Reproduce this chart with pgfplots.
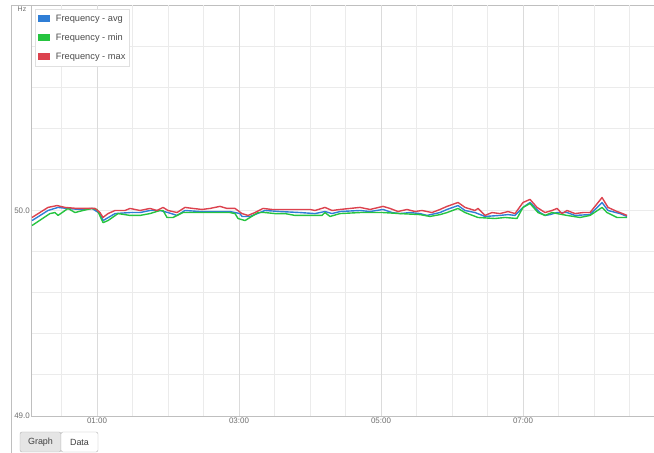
\documentclass[border=0pt]{standalone}
\usepackage{pgfplots}
\pgfplotsset{compat=1.18}
\usepackage{fontspec}
\setmainfont{Liberation Sans}
\definecolor{cavg}{RGB}{47,126,214}
\definecolor{cmin}{RGB}{38,196,64}
\definecolor{cmax}{RGB}{220,66,78}
\definecolor{tickc}{RGB}{110,110,110}
\begin{document}
\begin{tikzpicture}[x=1bp,y=1bp]
\useasboundingbox (0,0) rectangle (654,453);
\draw[black!25, line width=0.8bp] (11.5,0) -- (11.5,448) -- (654,448);
\node[font=\fontsize{7}{8}\selectfont, text=tickc] at (22,444) {Hz};
\begin{axis}[
  at={(31bp,37bp)}, anchor=south west,
  scale only axis, width=623bp, height=411bp,
  xmin=0.0704, xmax=8.845, ymin=49, ymax=51,
  axis x line*=bottom, axis y line*=left,
  axis line style={black!25, line width=0.8bp},
  xtick={1,3,5,7}, xticklabels={01:00,03:00,05:00,07:00},
  ytick={49,50}, yticklabels={49.0,50.0},
  minor xtick={0.5,1,...,8.5},
  minor ytick={49.2,49.4,49.6,49.8,50.2,50.4,50.6,50.8},
  xmajorgrids, ymajorgrids, xminorgrids, yminorgrids,
  major grid style={black!8, line width=0.8bp},
  minor grid style={black!8, line width=0.8bp},
  extra x ticks={1,3,5,7}, extra x tick labels={},
  extra x tick style={major grid style={black!14, line width=1bp}},
  tick style={draw=none}, major tick length=0pt, minor tick length=0pt,
  ticklabel style={font=\fontsize{8}{9}\selectfont, text=tickc},
  yticklabel style={inner sep=1bp},
  xticklabel style={inner sep=2bp},
  legend style={at={(axis description cs:0.0064,0.990)}, anchor=north west,
    draw=black!12, fill=white, font=\fontsize{9.3}{10}\selectfont, text=black!70,
    inner xsep=3bp, inner ysep=4.5bp, row sep=9bp,
    nodes={inner sep=1bp}},
  legend cell align=left,
  legend image code/.code={\draw[#1, line width=0pt, fill] (0bp,-3bp) rectangle (11bp,3bp); \path (16bp,0);},
  every axis plot/.append style={line width=1.4bp, line join=round},
]
\addplot[cavg] table {
0.085 49.951
0.310 50.000
0.451 50.015
0.577 50.010
0.761 50.005
0.930 50.010
1.042 49.985
1.085 49.951
1.254 49.985
1.465 49.990
1.606 49.990
1.746 50.000
1.887 50.000
2.000 49.990
2.127 49.976
2.239 50.000
2.451 49.995
2.662 49.995
2.873 49.995
3.014 49.985
3.042 49.971
3.155 49.971
3.296 49.990
3.366 50.000
3.577 49.995
3.859 49.990
4.070 49.985
4.211 49.995
4.310 49.985
4.423 49.995
4.704 50.000
4.845 49.995
5.028 50.005
5.155 49.990
5.268 49.985
5.408 49.990
5.549 49.985
5.648 49.976
5.831 49.990
5.930 50.005
6.085 50.024
6.183 50.000
6.324 49.990
6.465 49.971
6.676 49.976
6.789 49.980
6.887 49.976
7.000 50.015
7.099 50.039
7.239 49.990
7.310 49.976
7.380 49.980
7.479 49.990
7.620 49.990
7.732 49.976
7.944 49.980
8.113 50.039
8.197 50.000
8.366 49.985
8.465 49.971
};
\addlegendentry{Frequency - avg}
\addplot[cmin] table {
0.085 49.927
0.338 49.985
0.408 49.990
0.451 49.976
0.592 50.010
0.690 49.990
0.803 50.000
0.930 50.010
1.000 50.005
1.085 49.941
1.155 49.951
1.296 49.985
1.465 49.976
1.606 49.976
1.746 49.985
1.887 50.000
1.930 50.000
1.986 49.966
2.070 49.966
2.211 49.990
2.451 49.990
2.662 49.990
2.873 49.990
2.944 49.985
2.986 49.961
3.085 49.951
3.155 49.966
3.268 49.990
3.366 49.990
3.507 49.985
3.648 49.985
3.789 49.976
4.000 49.976
4.169 49.976
4.211 49.990
4.282 49.971
4.423 49.985
4.704 49.990
5.028 49.990
5.268 49.985
5.549 49.980
5.690 49.971
5.831 49.980
5.930 49.990
6.085 50.010
6.183 49.990
6.366 49.966
6.606 49.961
6.746 49.966
6.915 49.961
7.000 50.015
7.099 50.034
7.211 49.990
7.310 49.976
7.408 49.990
7.479 49.985
7.620 49.976
7.803 49.966
7.944 49.976
8.113 50.015
8.183 49.990
8.324 49.966
8.465 49.966
};
\addlegendentry{Frequency - min}
\addplot[cmax] table {
0.085 49.966
0.310 50.015
0.437 50.024
0.549 50.015
0.718 50.010
0.901 50.010
0.972 50.010
1.042 49.990
1.085 49.966
1.155 49.985
1.254 50.000
1.394 50.000
1.465 50.010
1.606 50.000
1.746 50.010
1.845 50.000
1.930 50.015
2.000 50.000
2.127 49.990
2.239 50.015
2.352 50.010
2.479 50.005
2.592 50.010
2.732 50.020
2.831 50.010
2.944 50.010
3.042 49.985
3.127 49.976
3.225 49.990
3.338 50.010
3.465 50.005
3.718 50.005
4.000 50.005
4.070 50.000
4.211 50.015
4.310 50.000
4.423 50.005
4.563 50.010
4.704 50.015
4.845 50.005
5.028 50.020
5.127 50.010
5.239 49.995
5.366 50.005
5.479 49.995
5.577 50.000
5.718 49.990
5.831 50.005
5.930 50.020
6.085 50.039
6.183 50.015
6.324 50.000
6.366 50.010
6.465 49.976
6.563 49.990
6.676 49.985
6.789 49.995
6.887 49.985
7.000 50.039
7.099 50.054
7.197 50.015
7.310 49.990
7.408 50.000
7.479 50.010
7.549 49.985
7.620 50.000
7.732 49.985
7.845 49.990
7.944 49.990
8.113 50.063
8.197 50.015
8.324 49.995
8.366 49.990
8.465 49.976
};
\addlegendentry{Frequency - max}
\end{axis}
\draw[black!30, fill=black!10, rounded corners=2bp] (20,1) rectangle (61,21);
\draw[black!30, fill=white, rounded corners=2bp] (61,1) rectangle (98,21);
\node[font=\fontsize{9}{10}\selectfont, text=black!75] at (40.5,11) {Graph};
\node[font=\fontsize{9}{10}\selectfont, text=black!75] at (79.5,11) {Data};
\end{tikzpicture}
\end{document}
